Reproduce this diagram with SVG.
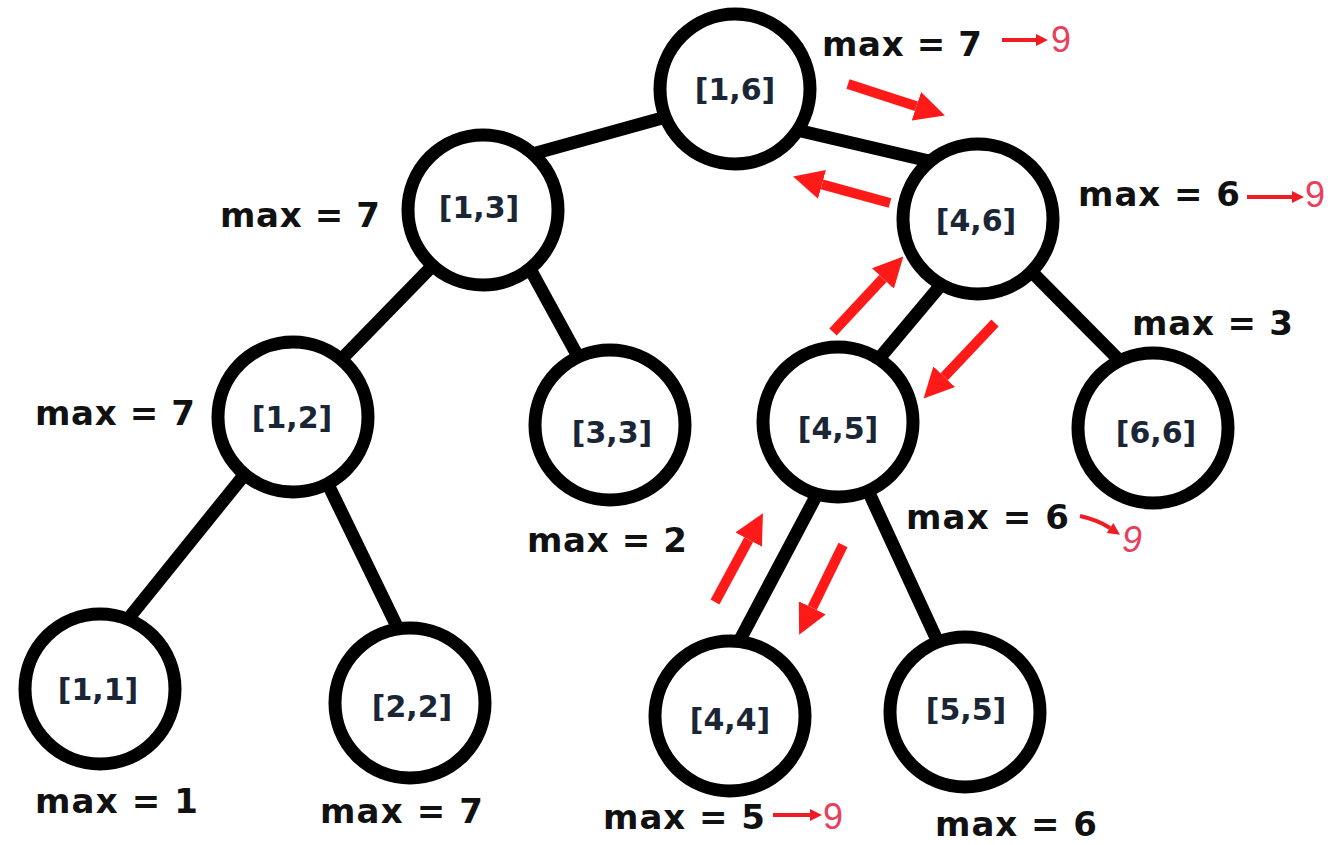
<svg xmlns="http://www.w3.org/2000/svg" width="1332" height="845" viewBox="0 0 1332 845">
<defs>
<style>
.edge{stroke:#000;stroke-width:13;stroke-linecap:butt;fill:none}
.node{fill:#fff;stroke:#000;stroke-width:13}
.lbl{font-family:"DejaVu Sans",sans-serif;font-weight:bold;font-size:30px;fill:#1a2535;text-anchor:middle}
.mx{font-family:"DejaVu Sans",sans-serif;font-weight:bold;font-size:34px;fill:#111}
.big{stroke:#ff1a1a;stroke-width:10;fill:none}
.sm{stroke:#f01c24;stroke-width:4;fill:none}
.nine{font-family:"Liberation Sans",sans-serif;font-size:36px;fill:#e8405c}
</style>
<marker id="bigHead" viewBox="0 0 10 10" refX="0" refY="5" markerWidth="30" markerHeight="30" markerUnits="userSpaceOnUse" orient="auto">
<path d="M0,0 L10,5 L0,10 z" fill="#ff1a1a"/>
</marker>
<marker id="smHead" viewBox="0 0 10 10" refX="0" refY="5" markerWidth="13" markerHeight="12" markerUnits="userSpaceOnUse" orient="auto">
<path d="M0,0 L10,5 L0,10 z" fill="#f01c24"/>
</marker>
</defs>
<rect width="1332" height="845" fill="#fff"/>
<g id="connectors">
<line class="edge" x1="684" y1="112" x2="518" y2="158"/>
<line class="edge" x1="786" y1="127.5" x2="944" y2="164.5"/>
<line class="edge" x1="444" y1="254" x2="329" y2="372"/>
<line class="edge" x1="518" y1="247" x2="587" y2="373"/>
<line class="edge" x1="951" y1="273" x2="867" y2="373"/>
<line class="edge" x1="1014" y1="254" x2="1129" y2="370"/>
<line class="edge" x1="253" y1="464" x2="120" y2="629"/>
<line class="edge" x1="321" y1="470" x2="405" y2="643"/>
<line class="edge" x1="822" y1="485" x2="733" y2="653"/>
<line class="edge" x1="864" y1="482" x2="943" y2="653"/>
</g>
<g id="n16"><circle class="node" cx="735" cy="89" r="75"/><text class="lbl" x="735" y="100">[1,6]</text></g>
<g id="n13"><circle class="node" cx="483" cy="210" r="75"/><text class="lbl" x="479" y="218">[1,3]</text></g>
<g id="n46"><circle class="node" cx="978" cy="219" r="75"/><text class="lbl" x="976" y="231">[4,6]</text></g>
<g id="n12"><circle class="node" cx="293" cy="417" r="75"/><text class="lbl" x="292" y="428">[1,2]</text></g>
<g id="n33"><circle class="node" cx="610" cy="425" r="75"/><text class="lbl" x="612" y="443">[3,3]</text></g>
<g id="n45"><circle class="node" cx="838" cy="422" r="75"/><text class="lbl" x="838" y="439">[4,5]</text></g>
<g id="n66"><circle class="node" cx="1153" cy="428" r="75"/><text class="lbl" x="1156" y="443">[6,6]</text></g>
<g id="n11"><circle class="node" cx="100" cy="689" r="75"/><text class="lbl" x="98" y="700">[1,1]</text></g>
<g id="n22"><circle class="node" cx="410" cy="703" r="75"/><text class="lbl" x="412" y="717">[2,2]</text></g>
<g id="n44"><circle class="node" cx="730" cy="716" r="75"/><text class="lbl" x="730" y="730">[4,4]</text></g>
<g id="n55"><circle class="node" cx="965" cy="712" r="75"/><text class="lbl" x="966" y="720">[5,5]</text></g>
<g id="labels">
<text class="mx" x="822" y="56" textLength="160">max = 7</text>
<text class="mx" x="1078" y="206" textLength="162">max = 6</text>
<text class="mx" x="220" y="227" textLength="160">max = 7</text>
<text class="mx" x="1132" y="335" textLength="161">max = 3</text>
<text class="mx" x="35" y="425" textLength="160">max = 7</text>
<text class="mx" x="906" y="529" textLength="163">max = 6</text>
<text class="mx" x="527" y="552" textLength="160">max = 2</text>
<text class="mx" x="35" y="813" textLength="163">max = 1</text>
<text class="mx" x="320" y="823" textLength="163">max = 7</text>
<text class="mx" x="603" y="829" textLength="162">max = 5</text>
<text class="mx" x="935" y="836" textLength="162">max = 6</text>
<text class="nine" x="1051" y="52">9</text>
<text class="nine" x="1305" y="207" font-size="33">9</text>
<text class="nine" x="1122" y="552" font-size="34" font-style="italic">9</text>
<text class="nine" x="823" y="829" font-size="33">9</text>
</g>
<g id="annotations">
<line class="sm" x1="1002" y1="40" x2="1036" y2="40" marker-end="url(#smHead)"/>
<line class="sm" x1="1247" y1="197" x2="1292" y2="197" marker-end="url(#smHead)"/>
<line class="sm" x1="773" y1="815" x2="810" y2="815" marker-end="url(#smHead)"/>
<path class="sm" d="M1080,516 Q1098,520 1110,528" marker-end="url(#smHead)"/>
<line class="big" x1="848" y1="84" x2="916.4" y2="106.3" marker-end="url(#bigHead)"/>
<line class="big" x1="890" y1="203" x2="822" y2="184.4" marker-end="url(#bigHead)"/>
<line class="big" x1="833" y1="332" x2="882.9" y2="278.5" marker-end="url(#bigHead)"/>
<line class="big" x1="995" y1="323" x2="944.2" y2="376.7" marker-end="url(#bigHead)"/>
<line class="big" x1="715" y1="602" x2="748.7" y2="539.6" marker-end="url(#bigHead)"/>
<line class="big" x1="843" y1="545" x2="812.3" y2="607.8" marker-end="url(#bigHead)"/>
</g>
</svg>
